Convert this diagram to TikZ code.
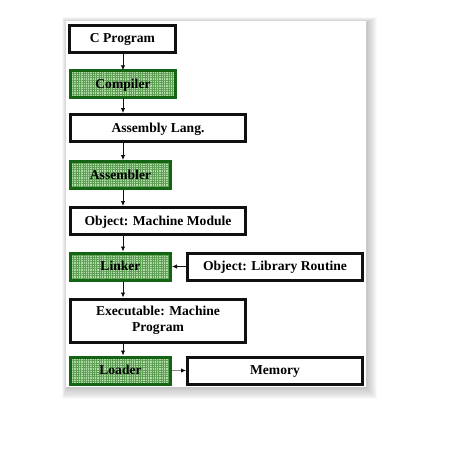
\documentclass[tikz,border=0pt]{standalone}
\usepackage{fontspec}
\setmainfont{Liberation Serif}
\usepackage{tikz}
\usetikzlibrary{arrows.meta, positioning, calc, patterns.meta}
\definecolor{ToolGreen}{HTML}{136513}
\definecolor{GridBg}{HTML}{B2DDAA}
\definecolor{GridLine}{HTML}{5E9F55}
\definecolor{Charcoal}{HTML}{111111}
\definecolor{LinkGray}{HTML}{8A8A8A}

\begin{document}
\begin{tikzpicture}[x=1pt, y=-1pt,
    plainbox/.style={draw=Charcoal, line width=3pt, fill=white, inner sep=0pt, align=center,
        font=\bfseries\fontsize{13.6}{16}\selectfont, minimum height=27pt},
    oneline/.style={text height=9.5pt, text depth=1pt},
    toolbox/.style={plainbox, oneline, draw=ToolGreen, minimum width=100pt,
        preaction={fill=GridBg}, pattern={Hatch[distance=2.3pt, angle=0, line width=0.5pt]}, pattern color=GridLine},
    flow/.style={-{Latex[length=5pt, width=4.5pt]}, line width=0.8pt, color=Charcoal}]
                \useasboundingbox (0,0) rectangle (476,448);

                % Page with soft shadow
                \foreach \s in {1,...,10}
                    \fill[black, opacity=0.022] ($(66,21)+(-\s*0.5+1,-\s*0.5+1)$) rectangle ($(366,387)+(\s*1.0+1,\s*1.1+1)$);
                \fill[white] (66,21) rectangle (366,387);

                % Spine of the chain
                \coordinate (spine) at (123,0);

                % Main chain
                \node[plainbox, oneline, minimum width=106pt] (cprog) at (122.5,38.5) {C Program};
                \node[toolbox, minimum width=105pt] (compiler) at (123,84) {Compiler};
                \node[plainbox, oneline, minimum width=175pt] (asmlang) at (158,128) {Assembly Lang.};
                \node[toolbox] (assembler) at (120.5,175) {Assembler};
                \node[plainbox, oneline, minimum width=175pt] (objmod) at (158,221) {Object: Machine Module};
                \node[toolbox] (linker) at (120.5,266.5) {Linker};
                \node[plainbox, minimum width=175pt, minimum height=43pt] (exec) at (158,320.5) {Executable: Machine\\Program};
                \node[toolbox] (loader) at (120.5,370.5) {Loader};

                % Side boxes
                \node[plainbox, oneline, minimum width=175pt] (libroutine) at (275,266.5) {Object: Library Routine};
                \node[plainbox, oneline, minimum width=175pt] (memory) at (275,370.5) {Memory};

                % Downward arrows
                \draw[flow] (cprog.south -| spine) -- (compiler.north -| spine);
                \draw[flow] (compiler.south -| spine) -- (asmlang.north -| spine);
                \draw[flow] (asmlang.south -| spine) -- (assembler.north -| spine);
                \draw[flow] (assembler.south -| spine) -- (objmod.north -| spine);
                \draw[flow] (objmod.south -| spine) -- (linker.north -| spine);
                \draw[flow] (linker.south -| spine) -- (exec.north -| spine);
                \draw[flow] (exec.south -| spine) -- (loader.north -| spine);

                % Side arrows
                \draw[flow] (libroutine.west) -- (linker.east);
                \draw[flow, color=LinkGray, -{Latex[length=5pt, width=4.5pt, color=Charcoal]}] (loader.east) -- (memory.west);
\end{tikzpicture}
\end{document}
